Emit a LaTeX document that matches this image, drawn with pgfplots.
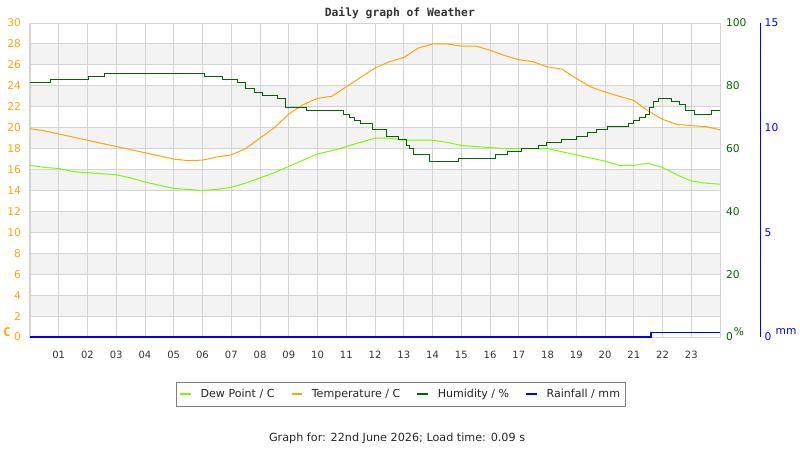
\documentclass[border=0pt]{standalone}
\usepackage{pgfplots}
\pgfplotsset{compat=1.18}
\usepackage{fontspec}
\setmainfont{DejaVu Sans}
\newfontfamily\monofont{DejaVu Sans Mono}

\definecolor{tempc}{HTML}{FFA500}
\definecolor{dewc}{HTML}{7CFC00}
\definecolor{humc}{HTML}{006400}
\definecolor{rainc}{HTML}{0000FF}
\definecolor{gridc}{HTML}{D3D3D3}
\definecolor{bandc}{HTML}{F3F3F3}
\definecolor{txtc}{HTML}{333333}

% 1px = 0.75pt, picture is 800x450 px
\pgfplotsset{
  frame/.style={
    at={(22.5pt,84.75pt)}, anchor=south west,
    scale only axis, width=517.5pt, height=235.5pt,
    xmin=0, xmax=24, clip=false,
    /pgf/number format/assume math mode=true,
    major tick length=0pt,
  },
}

\pgfplotstableread{
h    T
0    19.9
0.5  19.7
1    19.4
1.5  19.1
2    18.8
2.5  18.5
3    18.2
3.5  17.9
4    17.6
4.5  17.3
5    17.0
5.5  16.85
6    16.9
6.5  17.2
7    17.4
7.5  18.0
8    19.0
8.5  20.0
9    21.3
9.5  22.2
10   22.8
10.5 23.0
11   23.9
11.5 24.8
12   25.7
12.5 26.3
13   26.7
13.5 27.6
14   28.0
14.5 28.0
15   27.8
15.5 27.8
16   27.4
16.5 26.9
17   26.5
17.5 26.3
18   25.8
18.5 25.6
19   24.7
19.5 23.9
20   23.4
20.5 23.0
21   22.6
21.5 21.6
22   20.8
22.5 20.3
23   20.2
23.5 20.1
24   19.8
}\temptable

\pgfplotstableread{
h    D
0    16.4
0.5  16.2
1    16.1
1.5  15.8
2    15.7
2.5  15.6
3    15.5
3.5  15.2
4    14.8
4.5  14.5
5    14.2
5.5  14.1
6    14.0
6.5  14.1
7    14.3
7.5  14.7
8    15.2
8.5  15.7
9    16.3
9.5  16.9
10   17.5
10.5 17.8
11   18.2
11.5 18.6
12   19.0
12.5 19.0
13   18.8
13.5 18.8
14   18.8
14.5 18.6
15   18.3
15.5 18.2
16   18.1
16.5 18.0
17   18.0
17.5 18.0
18   18.0
18.5 17.7
19   17.4
19.5 17.1
20   16.8
20.5 16.4
21   16.4
21.5 16.6
22   16.2
22.5 15.5
23   14.9
23.5 14.7
24   14.6
}\dewtable

\pgfplotstableread{
h     H
0     81
0.7   82
2.05  83
2.6   84
6.08  83
6.7   82
7.2   81
7.5   79
7.8   78
8.1   77
8.6   76
8.9   73
9.6   72
10.9  71
11.1  70
11.3  69
11.5  68
11.9  66
12.4  64
12.8  63
13.1  61
13.2  60
13.35 58
13.9  56
14.9  57
16.2  58
16.6  59
17.1  60
17.7  61
17.95 62
18.5  63
19.0  64
19.4  65
19.7  66
20.1  67
20.8  68
21.0  69
21.2  70
21.4  71
21.55 73
21.7  75
21.85 76
22.3  75
22.6  74
22.8  72
23.1  71
23.7  72
24    72
}\humtable

\pgfplotstableread{
h     R
0     0
21.6  0.2
24    0.2
}\raintable

\begin{document}
\begin{tikzpicture}
\path[use as bounding box] (0,0) rectangle (600pt,337.5pt);

% background bands
\begin{axis}[frame, hide axis, ymin=0, ymax=30]
  \fill[bandc] (axis cs:0,2)  rectangle (axis cs:24,4);
  \fill[bandc] (axis cs:0,6)  rectangle (axis cs:24,8);
  \fill[bandc] (axis cs:0,10) rectangle (axis cs:24,12);
  \fill[bandc] (axis cs:0,14) rectangle (axis cs:24,16);
  \fill[bandc] (axis cs:0,18) rectangle (axis cs:24,20);
  \fill[bandc] (axis cs:0,22) rectangle (axis cs:24,24);
  \fill[bandc] (axis cs:0,26) rectangle (axis cs:24,28);
\end{axis}

% temperature axis
\begin{axis}[frame,
  ymin=0, ymax=30, ytick={0,2,...,30},
  xtick={1,...,23},
  xticklabels={01,02,03,04,05,06,07,08,09,10,11,12,13,14,15,16,17,18,19,20,21,22,23},
  grid=major, grid style={gridc, line width=0.75pt},
  axis line style={gridc, line width=0.75pt},
  yticklabel style={tempc, font=\fontsize{8}{9}\selectfont, xshift=-3.3pt},
  xticklabel style={txtc, font=\fontsize{7.5}{9}\selectfont, yshift=-7pt},
  legend columns=4,
  legend style={at={(0.5377,-0.183)}, anchor=center,
    draw=gray, line width=0.75pt, font=\fontsize{8.3}{10}\selectfont,
    text=black!85, inner xsep=2pt, inner ysep=3pt,
    /tikz/every odd column/.append style={column sep=4.5pt},
    /tikz/every even column/.append style={column sep=10pt}},
  legend image code/.code={\draw[#1, line width=1.5pt] (0pt,0pt) -- (8pt,0pt);},
  ]
  \addplot[dewc, line width=0.75pt] table[x=h, y=D] {\dewtable};
  \addlegendentry{Dew Point / C}
  \addplot[tempc, line width=0.75pt] table[x=h, y=T] {\temptable};
  \addlegendentry{Temperature / C}
  \addlegendimage{humc}
  \addlegendentry{Humidity / \%}
  \addlegendimage{rainc}
  \addlegendentry{Rainfall / mm}

  \node[font=\monofont\bfseries\fontsize{8.5}{10}\selectfont, text=txtc]
    at (axis description cs:0.536,1.032) {Daily graph of Weather};
  \node[font=\monofont\bfseries\fontsize{9}{10}\selectfont, text=tempc]
    at (axis description cs:-0.0333,0.016) {C};
  \node[font=\fontsize{8.4}{10}\selectfont, text=black!85]
    at (axis description cs:0.532,-0.3217) {Graph for: 22nd June 2026; Load time: 0.09 s};
\end{axis}

% humidity axis
\begin{axis}[frame,
  axis x line=none, axis y line*=right,
  y axis line style={draw=none},
  ymin=0, ymax=100, ytick={0,20,...,100},
  yticklabel style={humc, font=\fontsize{8}{9}\selectfont, xshift=1pt},
  ]
  \addplot[humc, line width=0.75pt, const plot] table[x=h, y=H] {\humtable};
  \node[font=\fontsize{8}{9}\selectfont, text=humc]
    at (axis description cs:1.0275,0.016) {\%};
\end{axis}

% rainfall axis
\begin{axis}[frame,
  axis x line=none, axis y line*=right,
  every outer y axis line/.append style={rainc, line width=0.75pt, xshift=30pt},
  ymin=0, ymax=15, ytick={0,5,10,15},
  yticklabel style={rainc, font=\fontsize{8}{9}\selectfont, xshift=30pt},
  ]
  \addplot[rainc, line width=1pt, const plot] table[x=h, y=R] {\raintable};
  \node[font=\fontsize{8}{9}\selectfont, text=rainc]
    at (axis description cs:1.0957,0.016) {mm};
\end{axis}
\end{tikzpicture}
\end{document}
